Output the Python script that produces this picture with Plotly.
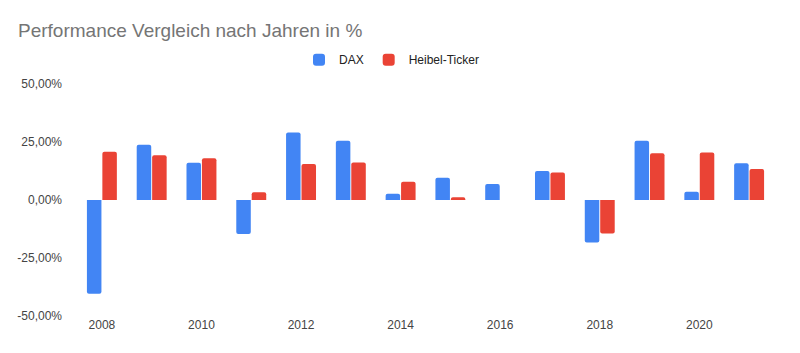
import plotly.graph_objects as go

years = ["2008", "2009", "2010", "2011", "2012", "2013", "2014", "2015", "2016", "2017", "2018", "2019", "2020", "2021"]
dax = [-40.4, 23.8, 16.1, -14.7, 29.1, 25.5, 2.7, 9.6, 6.9, 12.5, -18.3, 25.5, 3.6, 15.8]
heibel = [20.8, 19.3, 18.0, 3.3, 15.5, 16.2, 7.9, 1.2, 0.0, 11.8, -14.4, 20.1, 20.5, 13.4]
tick_years = years[::2]
y_ticks = [-50, -25, 0, 25, 50]
y_tick_labels = ["-50,00%", "-25,00%", "0,00%", "25,00%", "50,00%"]

FONT = "Arial, 'Liberation Sans', sans-serif"

fig = go.Figure()
fig.add_trace(go.Bar(x=years, y=dax, name="DAX", marker=dict(color="#4285F4", line=dict(width=0))))
fig.add_trace(go.Bar(x=years, y=heibel, name="Heibel-Ticker", marker=dict(color="#EA4335", line=dict(width=0))))

fig.update_layout(
    width=800, height=353,
    margin=dict(l=77, r=26, t=84, b=37),
    paper_bgcolor="white", plot_bgcolor="white",
    font=dict(family=FONT, size=12, color="#444444"),
    title=dict(text="Performance Vergleich nach Jahren in %", x=18/800, xref="container", xanchor="left",
               y=0.915, yref="container", yanchor="middle",
               font=dict(size=19, color="#757575", family=FONT)),
    legend=dict(orientation="h", x=0.5 - 34/697, xanchor="center", y=1.105, yanchor="middle",
                font=dict(size=12, color="#222222", family=FONT), itemwidth=30, traceorder="normal"),
    barmode="group", bargap=0.38, bargroupgap=0.06, barcornerradius=2,
    separators=",.",
)
fig.update_xaxes(type="category", tickvals=tick_years, ticktext=tick_years, showgrid=False,
                 showline=False, zeroline=False, ticks="", tickfont=dict(size=12, color="#444444"))
fig.update_yaxes(range=[-50, 50], tickvals=y_ticks, ticktext=y_tick_labels, showgrid=False,
                 zeroline=False, showline=False, ticks="", ticklabelstandoff=14,
                 tickfont=dict(size=12, color="#444444"))

fig.write_html("out.html")
